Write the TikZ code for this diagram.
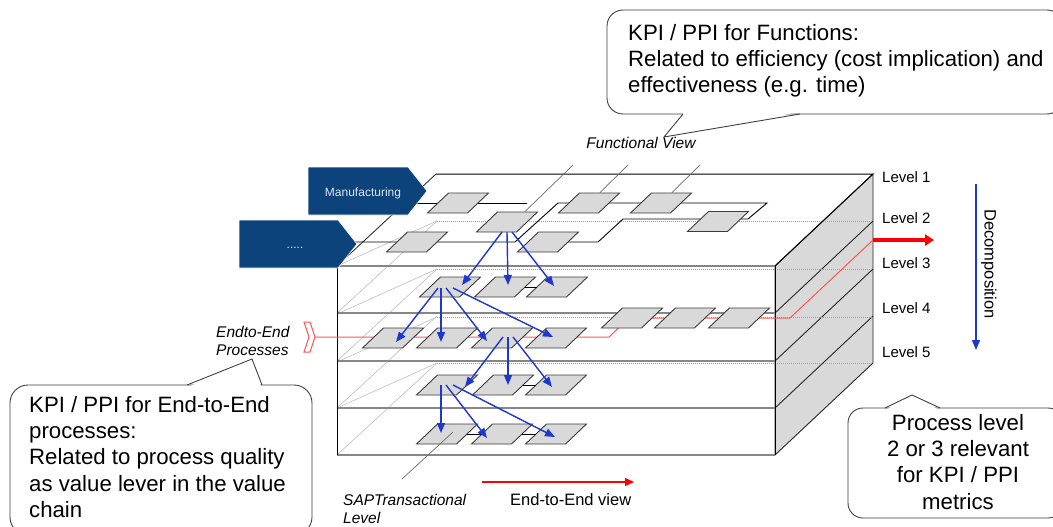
\documentclass[tikz,border=0pt]{standalone}
\usepackage{fontspec}
\setmainfont{Liberation Sans}
\usetikzlibrary{arrows.meta,calc}

\definecolor{chevblue}{RGB}{11,67,122}
\definecolor{chevtxt}{RGB}{222,230,240}
\definecolor{flowblue}{RGB}{30,55,205}
\definecolor{boxgray}{RGB}{217,217,217}
\definecolor{edgegray}{RGB}{60,60,60}
\definecolor{layergray}{RGB}{135,135,135}
\definecolor{faintgray}{RGB}{190,190,190}
\definecolor{thinred}{RGB}{255,85,85}

\begin{document}
\begin{tikzpicture}[x=1pt,y=-1pt,
  pbox/.style={shape=rectangle,draw=edgegray,line width=0.9pt,fill=boxgray,
    minimum width=40pt,minimum height=20pt,inner sep=0pt,xslant=1.05},
  flow/.style={draw=flowblue,line width=1.4pt,-{Triangle[length=10pt,width=8pt]}},
  link/.style={draw=black,line width=0.9pt},
  layerline/.style={draw=layergray,line width=1.5pt},
  backedge/.style={draw=gray!75,line width=1pt,dash pattern=on 1pt off 1pt},
  faintline/.style={draw=faintgray,line width=0.6pt},
  lane/.style={draw=black,line width=0.9pt},
  fview/.style={draw=gray!85!black,line width=0.7pt},
  chev/.style={fill=chevblue,draw=white,line width=0.6pt},
  chevtext/.style={font=\fontsize{12}{14}\selectfont,text=chevtxt,inner sep=0pt,anchor=base},
  lvl/.style={font=\fontsize{15}{18}\selectfont,anchor=base west,inner sep=0pt},
  itlabel/.style={font=\fontsize{15.5}{18}\selectfont\itshape,align=left,anchor=base west,inner sep=0pt},
  calltext/.style={font=\fontsize{22.2}{26.3}\selectfont,inner sep=0pt},
  bubble/.style={draw=black!75,line width=0.9pt,fill=white},
]
\useasboundingbox (0,0) rectangle (1053,527);
\clip (0,0) rectangle (1053,527);
\fill[white] (0,0) rectangle (1053,527);

% ---- slab: side face, top face, front face ----
\filldraw[fill=boxgray,draw=black!85,line width=0.9pt]
  (775,266) -- (873,174) -- (873,363) -- (775,455) -- cycle;
\foreach \f in {313,361,408}
  \draw[black!85,line width=0.9pt] (775,\f) -- (873,\f-92);
\foreach \b in {221,269,317,363}
  \draw[backedge] (437,\b) -- (873,\b);
\foreach \f in {313,361,408,455}
  \draw[faintline] (337,\f) -- (437,\f-92);
\foreach \b in {221,269,317,363}
  \draw[faintline] (437,\b) -- (337,\b+45);
\foreach \f in {266,313,361,408,455}
  \draw[layerline] (337,\f) -- (775,\f);
\draw[black!80,line width=0.9pt] (337,266) -- (436,174);
\draw[black,line width=1pt] (436,174) -- (873,174) -- (775,266);
\draw[black,line width=1pt] (337,266) -- (337,455);
\draw[black,line width=1pt] (775,266) -- (775,455);

% ---- function lanes on the top face ----
\draw[lane] (412,203) -- (527,203);
\draw[lane] (350,242) -- (515,242) -- (558,203) -- (767,203) -- (748,219)
  -- (623,219) -- (598,242) -- (560,242);

% ---- end-to-end process line ----
\coordinate (brk) at (315,337);
\coordinate (rside) at (873,240);
\coordinate (rtip) at (934,240);
\draw[thinred,line width=1pt] (brk) -- (609,337) -- (629,318) -- (790,318) -- (rside);
\draw[red,line width=3.5pt,-{Triangle[length=9pt,width=11pt]}] (rside) -- (rtip);
\filldraw[draw=thinred,fill=white,line width=1pt]
  (304,322) -- (310,322) -- (315,337) -- (310,352) -- (304,352) -- (309,337) -- cycle;

% ---- function chevrons ----
\filldraw[chev] (308,167) -- (408,167) -- (427,191) -- (408,215) -- (308,215) -- cycle;
\node[chevtext] (manuf) at (363,196) {Manufacturing};
\filldraw[chev] (239,220) -- (338,220) -- (357,244) -- (338,268) -- (239,268) -- cycle;
\node[chevtext] (otherfn) at (295,248) {.....};

% ---- process boxes ----
\node[pbox] (m1) at (458,203) {};
\node[pbox] (m2) at (589,203) {};
\node[pbox] (m3) at (661,203) {};
\node[pbox] (m4) at (718,221.5) {};
\node[pbox] (d1) at (417,242) {};
\node[pbox] (d2) at (548,242) {};
\node[pbox] (f2) at (507,222) {};

\node[pbox] (p3a) at (450,287) {};
\node[pbox] (p3b) at (505,287) {};
\node[pbox] (p3c) at (557,287) {};

\node[pbox] (p4a) at (393,338) {};
\node[pbox] (p4b) at (447,338) {};
\node[pbox] (p4c) at (502,338) {};
\node[pbox] (p4d) at (556,338) {};
\node[pbox] (q4a) at (632,318) {};
\node[pbox] (q4b) at (685,318) {};
\node[pbox] (q4c) at (739,318) {};

\node[pbox] (p5a) at (447,385) {};
\node[pbox] (p5b) at (503,385) {};
\node[pbox] (p5c) at (556,385) {};

\node[pbox] (s1) at (447,434) {};
\node[pbox] (s2) at (502,434) {};
\node[pbox] (s3) at (556,434) {};

% ---- links between boxes of a row ----
\draw[link] (p3b.east) -- (p3c.west);
\draw[link] (p5b.east) -- (p5c.west);
\draw[link] (s1.east) -- (s2.west);
\draw[link] (s2.east) -- (s3.west);

% ---- decomposition arrows ----
\draw[flow] ($(f2)+(-5,10)$) -- ($(p3a)+(12,-2)$);
\draw[flow] ($(f2)+(0,10)$) -- ($(p3b)+(3,-2)$);
\draw[flow] ($(f2)+(5,10)$) -- ($(p3c)+(-3,-1)$);

\draw[flow] ($(p3a)+(-12,1)$) -- ($(p4a)+(3,4)$);
\draw[flow] ($(p3a)+(-9,1)$) -- ($(p4b)+(-6,4)$);
\draw[flow] ($(p3a)+(-4,1)$) -- ($(p4c)+(-15,3)$);
\draw[flow] ($(p3a)+(3,1)$) -- ($(p4d)+(-3,-1)$);

\draw[flow] ($(p4c)+(1,-1)$) -- ($(p5a)+(18,2)$);
\draw[flow] ($(p4c)+(6,-1)$) -- ($(p5b)+(5,0)$);
\draw[flow] ($(p4c)+(11,-1)$) -- ($(p5c)+(-4,2)$);

\draw[flow] ($(p5a)+(-6,0)$) -- ($(s1)+(-6,-1)$);
\draw[flow] ($(p5a)+(-1,0)$) -- ($(s2)+(-15,4)$);
\draw[flow] ($(p5a)+(6,0)$) -- ($(s3)+(-1,3)$);

% ---- view markers ----
\coordinate (fv1) at (573,165);
\coordinate (fv2) at (628,165);
\coordinate (fv3) at (700,165);
\draw[fview] (fv1) -- ($(f2.north)+(7,0)$);
\draw[fview] (fv2) -- (m2.north);
\draw[fview] (fv3) -- (m3.north);
\node[itlabel,anchor=base] (fview) at (641,148) {Functional View};

\coordinate (sapend) at (402,479);
\draw[fview] (sapend) -- ($(s1)+(6,-2)$);
% multi-line nodes: the base anchor sits on the last line
\node[itlabel] (sap) at (343,523) {SAPTransactional\\Level};

\node[itlabel] (e2eproc) at (216,355) {Endto-End\\Processes};

\coordinate (e2estart) at (482,482);
\coordinate (e2eend) at (634,482);
\draw[red,line width=1.4pt,-{Triangle[length=9pt,width=8pt]}] (e2estart) -- (e2eend);
\node[font=\fontsize{16.5}{19}\selectfont,anchor=base west,inner sep=0pt] (e2eview) at (510,505) {End-to-End view};

% ---- level labels and decomposition arrow ----
\node[lvl] (lv1) at (882,182) {Level 1};
\node[lvl] (lv2) at (882,223) {Level 2};
\node[lvl] (lv3) at (882,268) {Level 3};
\node[lvl] (lv4) at (882,313) {Level 4};
\node[lvl] (lv5) at (882,357) {Level 5};

\coordinate (dectop) at (976,184);
\coordinate (decbot) at (976,350);
\draw[flowblue,line width=1.4pt,-{Triangle[length=10pt,width=8pt]}] (dectop) -- (decbot);
\node[font=\fontsize{16.5}{19}\selectfont,rotate=-90,inner sep=0pt] (decomp) at (989,264) {Decomposition};

% ---- callouts ----
\draw[bubble,rounded corners=16pt] (740,114) -- (1063,114) -- (1063,10) -- (607,10) -- (607,114) -- cycle;
\fill[white] (684,112) -- (664,137) -- (799,112) -- cycle;
\draw[bubble,fill=none] (683,114) -- (664,137) -- (800,114);
\node[calltext,align=left,anchor=base west] (kpifun) at (628,92.6)
  {KPI / PPI for Functions:\\Related to efficiency (cost implication) and\\effectiveness (e.g. time)};

\draw[bubble,rounded corners=18pt] (100,385) -- (10,385) -- (10,535) -- (312,535) -- (312,385) -- cycle;
\fill[white] (188,387) -- (252,359) -- (261,387) -- cycle;
\draw[bubble,fill=none] (187,385) -- (252,359) -- (262,385);
\node[calltext,align=left,anchor=base west] (kpie2e) at (29,517.5)
  {KPI / PPI for End-to-End\\processes:\\Related to process quality\\as value lever in the value\\chain};

\draw[bubble,rounded corners=15pt] (960,518) -- (1063,518) -- (1063,408) -- (848,408) -- (848,518) -- cycle;
\fill[white] (886,410) -- (912,395) -- (939,410) -- cycle;
\draw[bubble,fill=none] (885,408) -- (912,395) -- (940,408);
\node[calltext,align=center,anchor=base] (lvlnote) at (958,509)
  {Process level\\2 or 3 relevant\\for KPI / PPI\\metrics};
\end{tikzpicture}
\end{document}
